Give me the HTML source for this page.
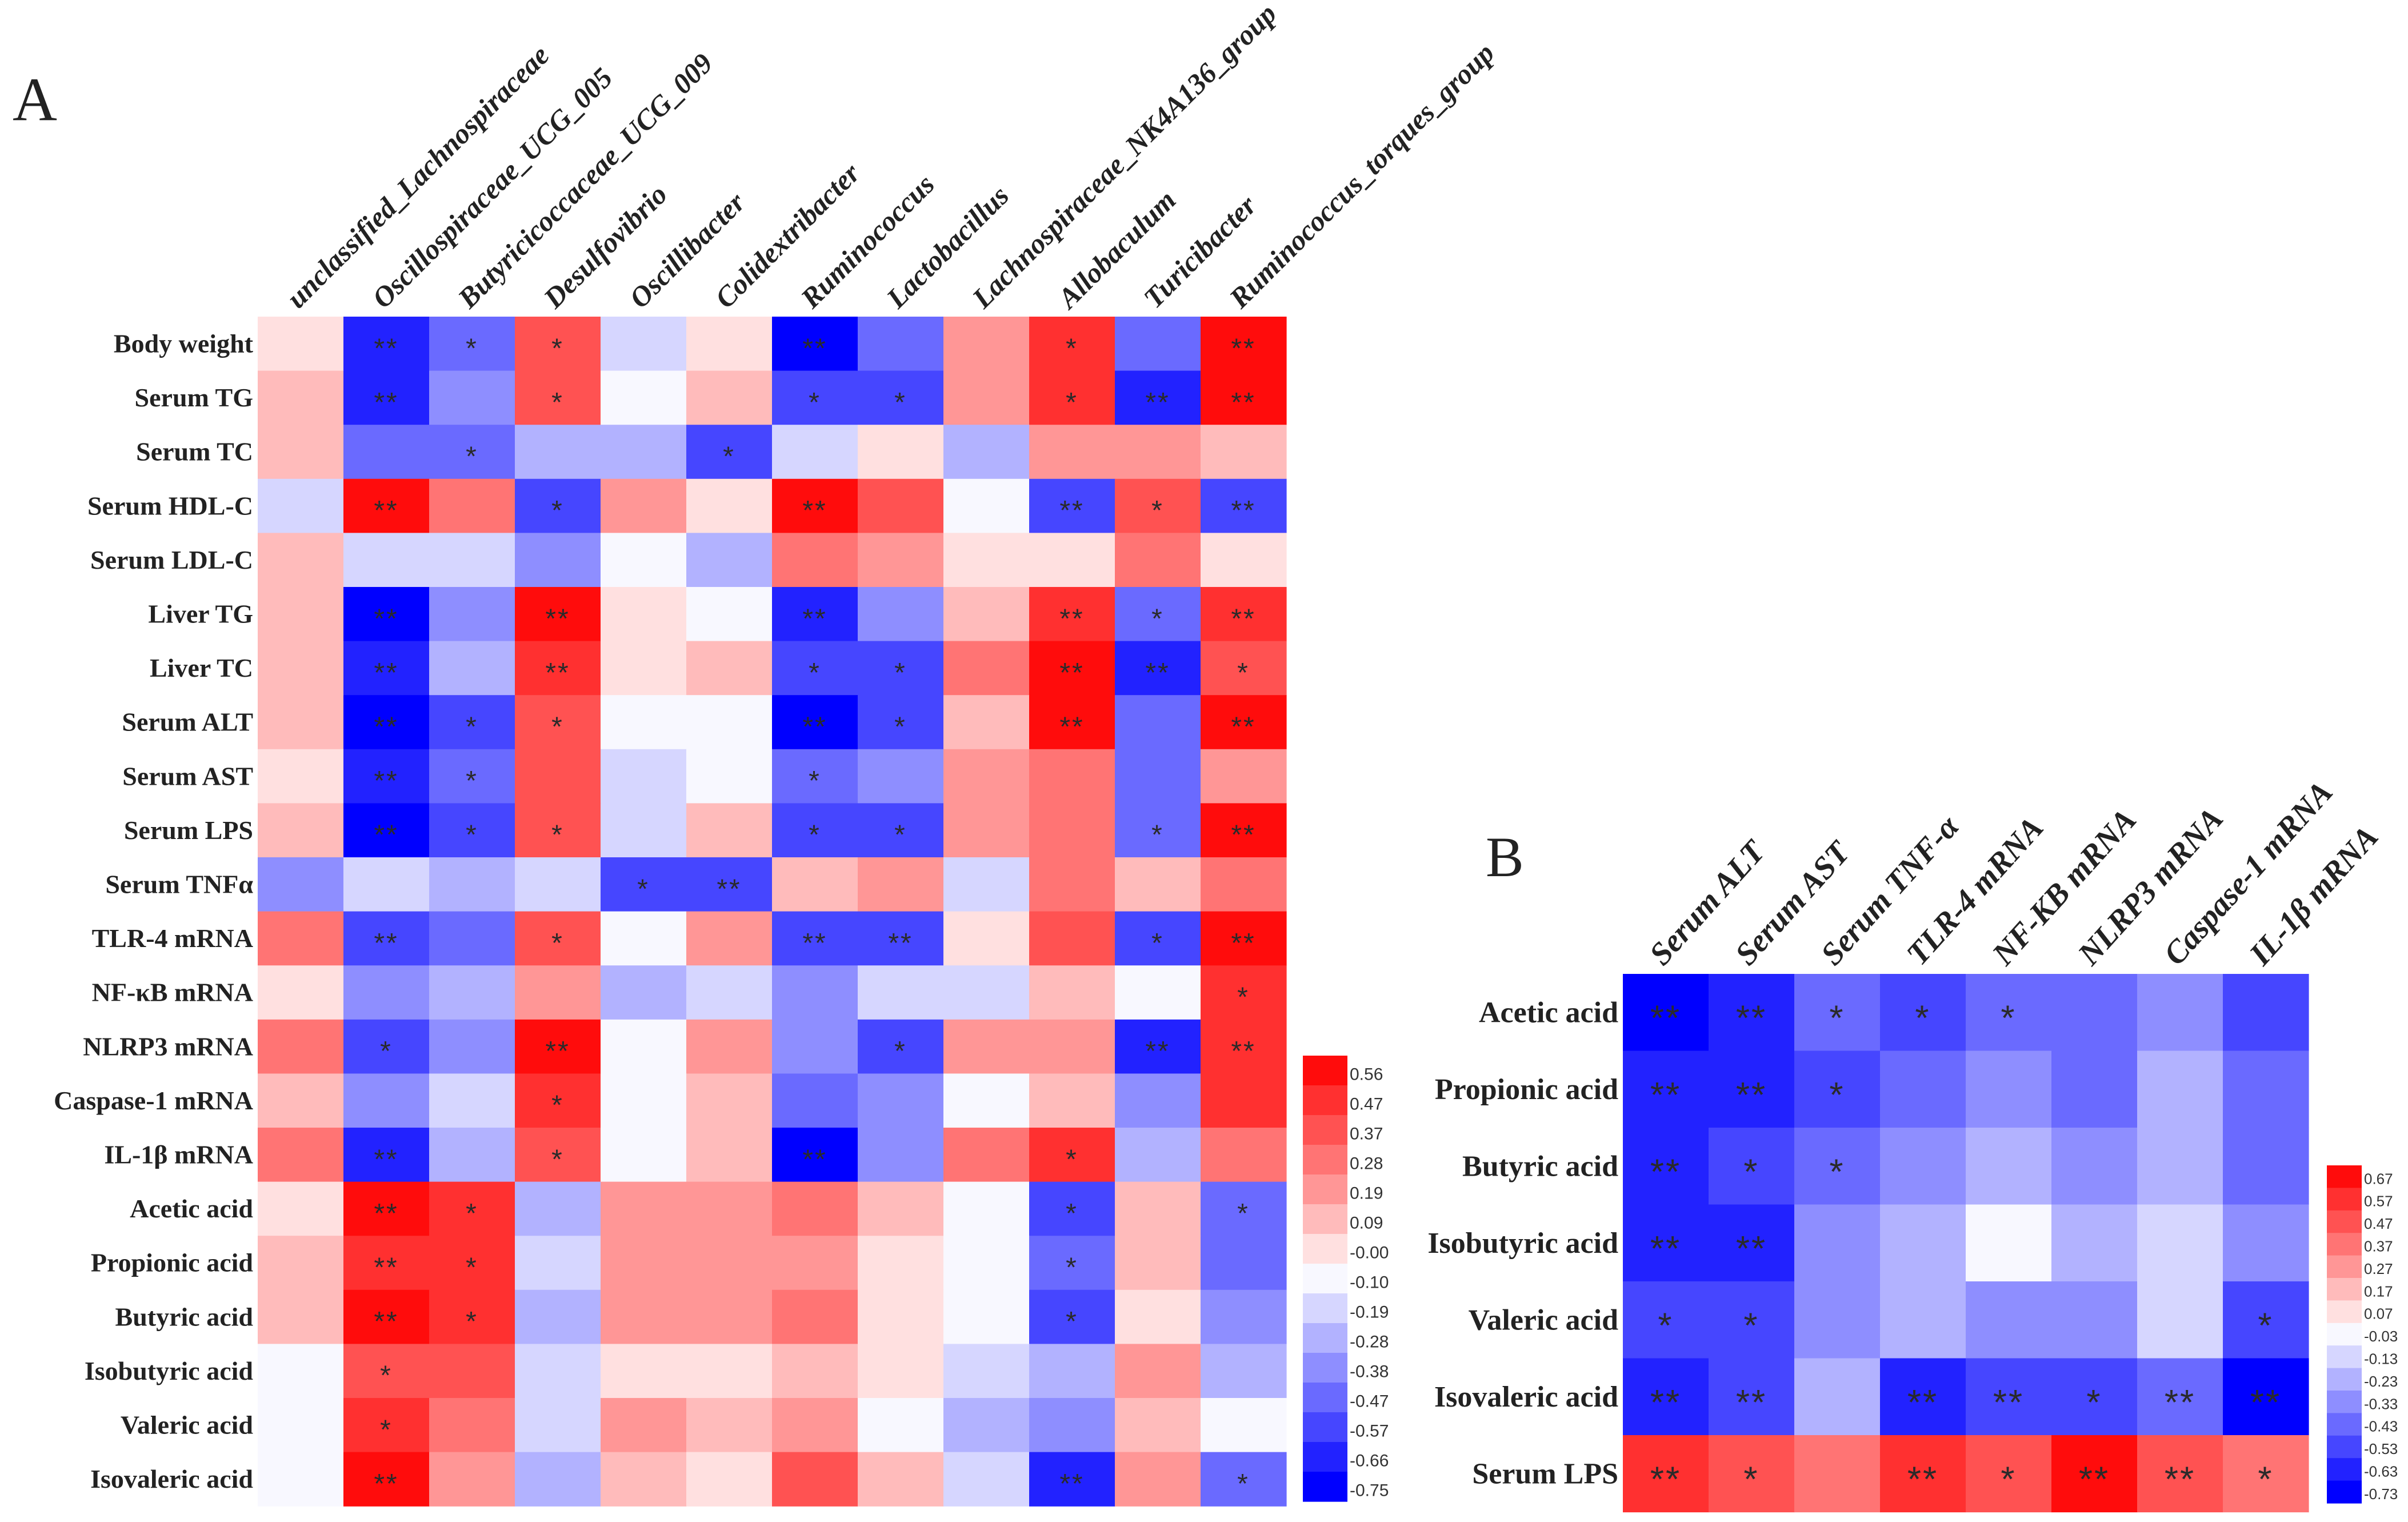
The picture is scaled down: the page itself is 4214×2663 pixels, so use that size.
<!DOCTYPE html>
<html><head><meta charset="utf-8">
<style>
html,body{margin:0;padding:0;background:#fff;}
svg{display:block;}
</style></head>
<body>
<svg id="fig" xmlns="http://www.w3.org/2000/svg" width="4214" height="2663" viewBox="0 0 4214 2663">
<rect x="0" y="0" width="4214" height="2663" fill="#fff"/>
<text x="22" y="210" font-family="Liberation Serif, serif" font-size="108" fill="#222">A</text>
<text x="2600" y="1533" font-family="Liberation Serif, serif" font-size="100" fill="#222">B</text>
<g id="gA"></g>
<g id="gB"></g>
</svg>
<script>
// ---- Panel A data ----
const colsA = ["unclassified_Lachnospiraceae","Oscillospiraceae_UCG_005","Butyricicoccaceae_UCG_009","Desulfovibrio","Oscillibacter","Colidextribacter","Ruminococcus","Lactobacillus","Lachnospiraceae_NK4A136_group","Allobaculum","Turicibacter","Ruminococcus_torques_group"];
const rowsA = ["Body weight","Serum TG","Serum TC","Serum HDL-C","Serum LDL-C","Liver TG","Liver TC","Serum ALT","Serum AST","Serum LPS","Serum TNFα","TLR-4 mRNA","NF-κB mRNA","NLRP3 mRNA","Caspase-1 mRNA","IL-1β mRNA","Acetic acid","Propionic acid","Butyric acid","Isobutyric acid","Valeric acid","Isovaleric acid"];
const valsA = [
[0.00,-0.66,-0.47,0.37,-0.19,0.00,-0.75,-0.47,0.19,0.47,-0.47,0.56],
[0.09,-0.66,-0.38,0.37,-0.10,0.09,-0.57,-0.57,0.19,0.47,-0.66,0.56],
[0.09,-0.47,-0.47,-0.28,-0.28,-0.57,-0.19,0.00,-0.28,0.19,0.19,0.09],
[-0.19,0.56,0.28,-0.57,0.19,0.00,0.56,0.37,-0.10,-0.57,0.37,-0.57],
[0.09,-0.19,-0.19,-0.38,-0.10,-0.28,0.28,0.19,0.00,0.00,0.28,0.00],
[0.09,-0.75,-0.38,0.56,0.00,-0.10,-0.66,-0.38,0.09,0.47,-0.47,0.47],
[0.09,-0.66,-0.28,0.47,0.00,0.09,-0.57,-0.57,0.28,0.56,-0.66,0.37],
[0.09,-0.75,-0.57,0.37,-0.10,-0.10,-0.75,-0.57,0.09,0.56,-0.47,0.56],
[0.00,-0.66,-0.47,0.37,-0.19,-0.10,-0.47,-0.38,0.19,0.28,-0.47,0.19],
[0.09,-0.75,-0.57,0.37,-0.19,0.09,-0.57,-0.57,0.19,0.28,-0.47,0.56],
[-0.38,-0.19,-0.28,-0.19,-0.57,-0.57,0.09,0.19,-0.19,0.28,0.09,0.28],
[0.28,-0.57,-0.47,0.37,-0.10,0.19,-0.57,-0.57,0.00,0.37,-0.57,0.56],
[0.00,-0.38,-0.28,0.19,-0.28,-0.19,-0.38,-0.19,-0.19,0.09,-0.10,0.47],
[0.28,-0.57,-0.38,0.56,-0.10,0.19,-0.38,-0.57,0.19,0.19,-0.66,0.47],
[0.09,-0.38,-0.19,0.47,-0.10,0.09,-0.47,-0.38,-0.10,0.09,-0.38,0.47],
[0.28,-0.66,-0.28,0.37,-0.10,0.09,-0.75,-0.38,0.28,0.47,-0.28,0.28],
[0.00,0.56,0.47,-0.28,0.19,0.19,0.28,0.09,-0.10,-0.57,0.09,-0.47],
[0.09,0.47,0.47,-0.19,0.19,0.19,0.19,0.00,-0.10,-0.47,0.09,-0.47],
[0.09,0.56,0.47,-0.28,0.19,0.19,0.28,0.00,-0.10,-0.57,0.00,-0.38],
[-0.10,0.37,0.37,-0.19,0.00,0.00,0.09,0.00,-0.19,-0.28,0.19,-0.28],
[-0.10,0.47,0.28,-0.19,0.19,0.09,0.19,-0.10,-0.28,-0.38,0.09,-0.10],
[-0.10,0.56,0.19,-0.28,0.09,0.00,0.37,0.09,-0.19,-0.66,0.19,-0.47]];
const starsA = [
["","**","*","*","","","**","","","*","","**"],
["","**","","*","","","*","*","","*","**","**"],
["","","*","","","*","","","","","",""],
["","**","","*","","","**","","","**","*","**"],
["","","","","","","","","","","",""],
["","**","","**","","","**","","","**","*","**"],
["","**","","**","","","*","*","","**","**","*"],
["","**","*","*","","","**","*","","**","","**"],
["","**","*","","","","*","","","","",""],
["","**","*","*","","","*","*","","","*","**"],
["","","","","*","**","","","","","",""],
["","**","","*","","","**","**","","","*","**"],
["","","","","","","","","","","","*"],
["","*","","**","","","","*","","","**","**"],
["","","","*","","","","","","","",""],
["","**","","*","","","**","","","*","",""],
["","**","*","","","","","","","*","","*"],
["","**","*","","","","","","","*","",""],
["","**","*","","","","","","","*","",""],
["","*","","","","","","","","","",""],
["","*","","","","","","","","","",""],
["","**","","","","","","","","**","","*"]];
const ticksA = [0.56,0.47,0.37,0.28,0.19,0.09,-0.00,-0.10,-0.19,-0.28,-0.38,-0.47,-0.57,-0.66,-0.75];
const tickLabelsA = ["0.56","0.47","0.37","0.28","0.19","0.09","-0.00","-0.10","-0.19","-0.28","-0.38","-0.47","-0.57","-0.66","-0.75"];

// ---- Panel B data ----
const colsB = ["Serum ALT","Serum AST","Serum TNF-α","TLR-4 mRNA","NF-KB mRNA","NLRP3 mRNA","Caspase-1 mRNA","IL-1β mRNA"];
const rowsB = ["Acetic acid","Propionic acid","Butyric acid","Isobutyric acid","Valeric acid","Isovaleric acid","Serum LPS"];
const valsB = [
[-0.73,-0.63,-0.43,-0.53,-0.43,-0.43,-0.33,-0.53],
[-0.63,-0.63,-0.53,-0.43,-0.33,-0.43,-0.23,-0.43],
[-0.63,-0.53,-0.43,-0.33,-0.23,-0.33,-0.23,-0.43],
[-0.63,-0.63,-0.33,-0.23,-0.03,-0.23,-0.13,-0.33],
[-0.53,-0.53,-0.33,-0.23,-0.33,-0.33,-0.13,-0.53],
[-0.63,-0.53,-0.23,-0.63,-0.53,-0.53,-0.43,-0.73],
[0.57,0.47,0.37,0.57,0.47,0.67,0.47,0.37]];
const starsB = [
["**","**","*","*","*","","",""],
["**","**","*","","","","",""],
["**","*","*","","","","",""],
["**","**","","","","","",""],
["*","*","","","","","","*"],
["**","**","","**","**","*","**","**"],
["**","*","","**","*","**","**","*"]];
const ticksB = [0.67,0.57,0.47,0.37,0.27,0.17,0.07,-0.03,-0.13,-0.23,-0.33,-0.43,-0.53,-0.63,-0.73];
const tickLabelsB = ["0.67","0.57","0.47","0.37","0.27","0.17","0.07","-0.03","-0.13","-0.23","-0.33","-0.43","-0.53","-0.63","-0.73"];

const palette = ["rgb(255,12,12)","rgb(255,48,48)","rgb(255,82,82)","rgb(255,116,116)","rgb(255,150,150)","rgb(255,187,187)","rgb(255,224,224)","rgb(248,248,255)","rgb(214,214,255)","rgb(178,178,255)","rgb(142,142,255)","rgb(106,106,255)","rgb(70,70,255)","rgb(34,34,255)","rgb(0,0,255)"];

const NS = "http://www.w3.org/2000/svg";
function mk(tag, attrs, parent){const e=document.createElementNS(NS,tag);for(const k in attrs)e.setAttribute(k,attrs[k]);parent.appendChild(e);return e;}
function colorFor(v,ticks){let bi=0,bd=1e9;ticks.forEach((t,i)=>{const d=Math.abs(v-t);if(d<bd){bd=d;bi=i;}});return palette[bi];}

function drawHeatmap(g, cfg){
  const {cols,rows,vals,stars,ticks,tickLabels,x0,y0,cw,rh,rowFont,colFont,colAngle,starFont,cb} = cfg;
  const xs = i => x0 + i*cw;
  const ys = j => y0 + j*rh;
  rows.forEach((r,j)=>{
    cols.forEach((c,i)=>{
      const rect = mk("rect",{x:xs(i),y:ys(j),width:cw+0.6,height:rh+0.6,fill:colorFor(vals[j][i],ticks)},g);
      
      
      if(stars[j][i]){
        const s = mk("text",{x:xs(i)+cw/2,y:ys(j)+rh/2+starFont*0.5,"text-anchor":"middle","font-family":"Liberation Sans, sans-serif","font-size":starFont,fill:"#2a2a2a","letter-spacing":"3"},g);
        s.textContent = stars[j][i];
        
        
      }
    });
    const t = mk("text",{x:x0-8,y:ys(j)+rh/2+rowFont*0.33,"text-anchor":"end","font-family":"Liberation Serif, serif","font-weight":"bold","font-size":rowFont,fill:"#222"},g);
    t.textContent = r;
    
    
  });
  cols.forEach((c,i)=>{
    const ax = xs(i)+cw/2 - 4, ay = y0 - 12;
    const t = mk("text",{x:ax,y:ay,transform:`rotate(${-colAngle} ${ax} ${ay})`,"font-family":"Liberation Serif, serif","font-weight":"bold","font-style":"italic","font-size":colFont,fill:"#222"},g);
    t.textContent = c;
    
    
  });
  const n = ticks.length, bh = cb.h/n;
  const cbg = mk("g",{},g);
  
  
  ticks.forEach((t,i)=>{
    const r = mk("rect",{x:cb.x,y:cb.y+i*bh,width:cb.w,height:bh+0.6,fill:palette[i]},cbg);
    
    
    const l = mk("text",{x:cb.x+cb.w+4,y:cb.y+i*bh+bh*0.82,"font-family":"Liberation Sans, sans-serif","font-size":cb.fs,fill:"#333"},cbg);
    l.textContent = tickLabels[i];
    
    
  });
}

drawHeatmap(document.getElementById("gA"),{cols:colsA,rows:rowsA,vals:valsA,stars:starsA,ticks:ticksA,tickLabels:tickLabelsA,
  x0:451,y0:554,cw:150,rh:94.6,rowFont:46,colFont:50,colAngle:45,starFont:48,
  cb:{x:2280,y:1847,w:78,h:780,fs:30}});
drawHeatmap(document.getElementById("gB"),{cols:colsB,rows:rowsB,vals:valsB,stars:starsB,ticks:ticksB,tickLabels:tickLabelsB,
  x0:2840,y0:1704,cw:150,rh:134.5,rowFont:52,colFont:56,colAngle:48,starFont:62,
  cb:{x:4072,y:2039,w:61,h:591,fs:26}});
</script>
</body></html>
